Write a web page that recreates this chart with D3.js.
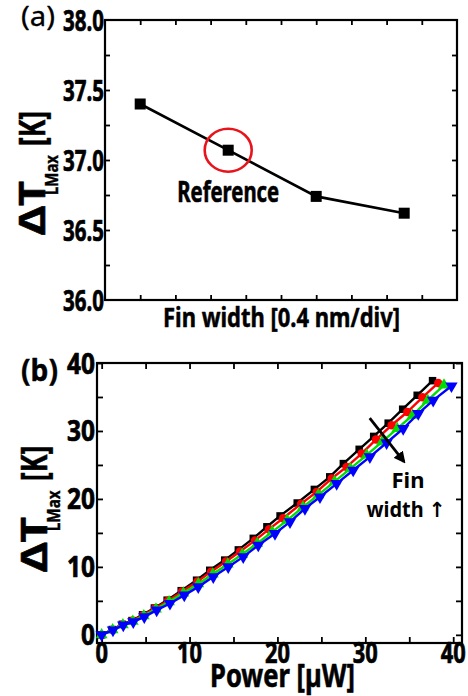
<!DOCTYPE html>
<html><head><meta charset="utf-8">
<script src="https://cdn.jsdelivr.net/npm/d3@7"></script>
<style>html,body{margin:0;padding:0;background:#fff;}svg{display:block;}</style>
</head><body>
<script>
// ---------- DATA ----------
// Panel (a): fin width position (0.4 nm/div units) vs max temperature rise
const finPos = [1, 3.5, 6, 8.5];
const finDT = [37.40, 37.07, 36.74, 36.62];
const aYTicks = ["36.0", "36.5", "37.0", "37.5", "38.0"];

// Panel (b): power [uW] vs dT [K], four fin widths
const pBlack = [0,1.2,2.35,3.45,4.65,6.0,7.45,9.05,10.8,12.3,14.0,15.55,17.25,18.8,20.3,22.25,24.2,25.95,27.5,29.3,30.95,32.6,34.25,35.9,37.65];
const tBlack = [0,0.78,1.55,2.1,2.95,3.95,5.1,6.5,8.04,9.5,11.0,12.5,14.2,15.9,17.5,19.4,21.4,23.25,25.2,27.3,29.2,31.15,33.2,35.25,37.4];
const pRed   = [0,1.22,2.38,3.5,4.72,6.08,7.55,9.15,10.9,12.45,14.15,15.75,17.45,19.05,20.65,22.7,24.46,26.17,27.87,29.58,31.21,32.99,34.77,36.5,38.3];
const tRed   = [0,0.76,1.52,2.07,2.9,3.9,5.02,6.38,7.85,9.3,10.78,12.25,13.9,15.55,17.15,19.3,21.03,23.0,24.71,26.68,28.74,30.84,32.79,34.95,37.07];
const pGreen = [0,1.25,2.42,3.55,4.8,6.18,7.67,9.3,11.0,12.65,14.35,16.0,17.7,19.4,21.1,22.9,24.65,26.5,28.3,30.15,31.9,33.63,35.38,37.1,38.95];
const tGreen = [0,0.73,1.48,2.0,2.8,3.78,4.85,6.15,7.5,8.95,10.4,11.85,13.45,15.15,16.85,18.8,20.6,22.55,24.45,26.45,28.4,30.35,32.31,34.5,36.74];
const pBlue  = [0,1.29,2.46,3.6,4.85,6.26,7.77,9.4,10.99,12.7,14.4,16.11,17.82,19.72,21.43,23.13,24.84,26.74,28.62,30.52,32.42,34.31,36.02,37.72,39.8];
const tBlue  = [0,0.69,1.43,1.91,2.65,3.63,4.62,5.84,7.06,8.53,10.0,11.47,13.19,14.91,16.62,18.59,20.29,22.26,24.22,26.18,28.26,30.35,32.56,34.51,36.62];
const bTickLabels = ["0", "10", "20", "30", "40"];

// ---------- SETUP ----------
const W = 468, H = 696;
const svg = d3.select("body").append("svg").attr("width", W).attr("height", H);
const FONT = "'Noto Sans', 'DejaVu Sans', sans-serif";

function txt(g, s, x, y, size, opts = {}) {
  const t = g.append("text").attr("x", x).attr("y", y)
    .attr("font-family", FONT).attr("font-size", size)
    .attr("font-weight", opts.weight || "bold")
    .attr("text-anchor", opts.anchor || "start")
    .attr("fill", opts.fill || "#000").text(s);
  if (opts.len) t.attr("textLength", opts.len).attr("lengthAdjust", "spacingAndGlyphs");
  if (opts.sw) t.attr("stroke", "#000").attr("stroke-width", opts.sw).attr("stroke-linejoin", "round");
  return t;
}
function labelWidth(s, digit, dot) {
  let w = 0; for (const c of s) w += (c === "." ? dot : digit); return w;
}

function yLabel(ox, oy, s) {
  const g = svg.append("g").attr("transform", `translate(${ox},${oy}) rotate(-90)`);
  txt(g, "\u0394", 0, 0, 35, {len: 29 * s, sw: 0.6});
  txt(g, "T", 29 * s, 0, 35, {len: 25 * s, sw: 0.6});
  txt(g, "LMax", 40 * s, 13, 18, {len: 40 * s, sw: 0.4});
  txt(g, "[K]", 89 * s, 0, 35, {len: 35 * s, sw: 0.6});
}

// ---------- PANEL (a) ----------
const xa = d3.scaleLinear().domain([0, 10]).range([105, 457]);
const ya = d3.scaleLinear().domain([36, 38]).range([300, 20]);
const ga = svg.append("g");

const tickA = d3.range(36.25, 38, 0.25);
const xTickA = d3.range(1, 10, 1);
function axisTicks(g, xs, ys, xTicks, yTicks, len) {
  const [x0, x1] = xs.range(), [y0, y1] = ys.range();
  g.append("g").attr("transform", `translate(0,${y0})`)
    .call(d3.axisBottom(xs).tickValues(xTicks).tickSizeInner(-len).tickSizeOuter(0).tickFormat(""));
  g.append("g").attr("transform", `translate(0,${y1})`)
    .call(d3.axisTop(xs).tickValues(xTicks).tickSizeInner(-len).tickSizeOuter(0).tickFormat(""));
  g.append("g").attr("transform", `translate(${x0},0)`)
    .call(d3.axisLeft(ys).tickValues(yTicks).tickSizeInner(-len).tickSizeOuter(0).tickFormat(""));
  g.append("g").attr("transform", `translate(${x1},0)`)
    .call(d3.axisRight(ys).tickValues(yTicks).tickSizeInner(-len).tickSizeOuter(0).tickFormat(""));
  g.selectAll(".domain").remove();
  g.selectAll(".tick line").attr("stroke", "#000").attr("stroke-width", 1.8);
  g.append("rect").attr("x", x0).attr("y", y1).attr("width", x1 - x0).attr("height", y0 - y1)
    .attr("fill", "none").attr("stroke", "#000").attr("stroke-width", 2.2);
}
axisTicks(ga, xa, ya, xTickA, tickA, 5);

aYTicks.forEach(s => {
  txt(ga, s, 104, ya(+s) + 10.5, 29, {anchor: "end", len: 41, sw: 0.7});
});

const aPts = finPos.map((p, i) => [p, finDT[i]]);
ga.append("path").datum(aPts)
  .attr("d", d3.line().x(d => xa(d[0])).y(d => ya(d[1])))
  .attr("fill", "none").attr("stroke", "#000").attr("stroke-width", 2.6);
ga.selectAll("rect.pt").data(aPts).enter().append("rect").attr("class", "pt")
  .attr("x", d => xa(d[0]) - 5.5).attr("y", d => ya(d[1]) - 5.5)
  .attr("width", 11).attr("height", 11).attr("fill", "#000");

ga.append("ellipse").attr("cx", xa(finPos[1])).attr("cy", ya(finDT[1]))
  .attr("rx", 23.5).attr("ry", 21.5).attr("fill", "none").attr("stroke", "#e8141c").attr("stroke-width", 2.6);
txt(ga, "Reference", xa(finPos[1]), 202, 28, {anchor: "middle", len: 102, sw: 0.6});
txt(ga, "Fin width [0.4 nm/div]", 281.5, 327, 27, {anchor: "middle", len: 237, sw: 0.5});
txt(ga, "(a)", 21, 26, 28, {weight: "normal", len: 34, sw: 0.3});
yLabel(45, 235, 1);

// ---------- PANEL (b) ----------
const xb = d3.scaleLinear().domain([-0.53, 41.0]).range([97, 462]);
const yb = d3.scaleLinear().domain([-1.2, 40]).range([643, 363]);
const gb = svg.append("g");
axisTicks(gb, xb, yb, d3.range(0, 41, 5), d3.range(0, 41, 5), 6);

bTickLabels.forEach(s => {
  txt(gb, s, 95, yb(+s) + 10.5, 29, {anchor: "end", len: labelWidth(s, 14, 5), sw: 0.7});
  txt(gb, s, xb(+s), 663, 29, {anchor: "middle", len: labelWidth(s, 12.5, 5), sw: 0.7});
});

const series = [
  {p: pBlack, t: tBlack, color: "#000000", sym: d3.symbolSquare, size: 56, rot: 0},
  {p: pRed,   t: tRed,   color: "#ff0000", sym: d3.symbolCircle, size: 56, rot: 0},
  {p: pGreen, t: tGreen, color: "#00dd00", sym: d3.symbolTriangle, size: 60, rot: 0},
  {p: pBlue,  t: tBlue,  color: "#0000ff", sym: d3.symbolTriangle, size: 66, rot: 180}
];
series.forEach(s => {
  const pts = s.p.map((v, i) => [v, s.t[i]]);
  gb.append("path").datum(pts)
    .attr("d", d3.line().x(d => xb(d[0])).y(d => yb(d[1])))
    .attr("fill", "none").attr("stroke", s.color).attr("stroke-width", 2.4);
  gb.selectAll(null).data(pts).enter().append("path")
    .attr("d", d3.symbol().type(s.sym).size(s.size))
    .attr("transform", d => `translate(${xb(d[0])},${yb(d[1])}) rotate(${s.rot})`)
    .attr("fill", s.color);
});

// arrow annotation
const defs = svg.append("defs");
defs.append("marker").attr("id", "ah").attr("viewBox", "0 0 10 10").attr("refX", 8).attr("refY", 5)
  .attr("markerWidth", 4.2).attr("markerHeight", 4.2).attr("orient", "auto")
  .append("path").attr("d", "M0,0 L10,5 L0,10 z").attr("fill", "#000");
gb.append("line").attr("x1", xb(30.5)).attr("y1", yb(31.9)).attr("x2", xb(34.4)).attr("y2", yb(25.5))
  .attr("stroke", "#000").attr("stroke-width", 2.8).attr("marker-end", "url(#ah)");
txt(gb, "Fin", 408, 488, 22, {anchor: "middle"});
txt(gb, "width \u2191", 406, 517, 21, {anchor: "middle", len: 79});

txt(gb, "Power [\u00b5W]", 282.5, 687, 33, {anchor: "middle", len: 145, sw: 0.6});
txt(gb, "(b)", 21, 381, 31, {len: 37, sw: 0.4});
yLabel(47, 572, 1.02);
</script>
</body></html>
